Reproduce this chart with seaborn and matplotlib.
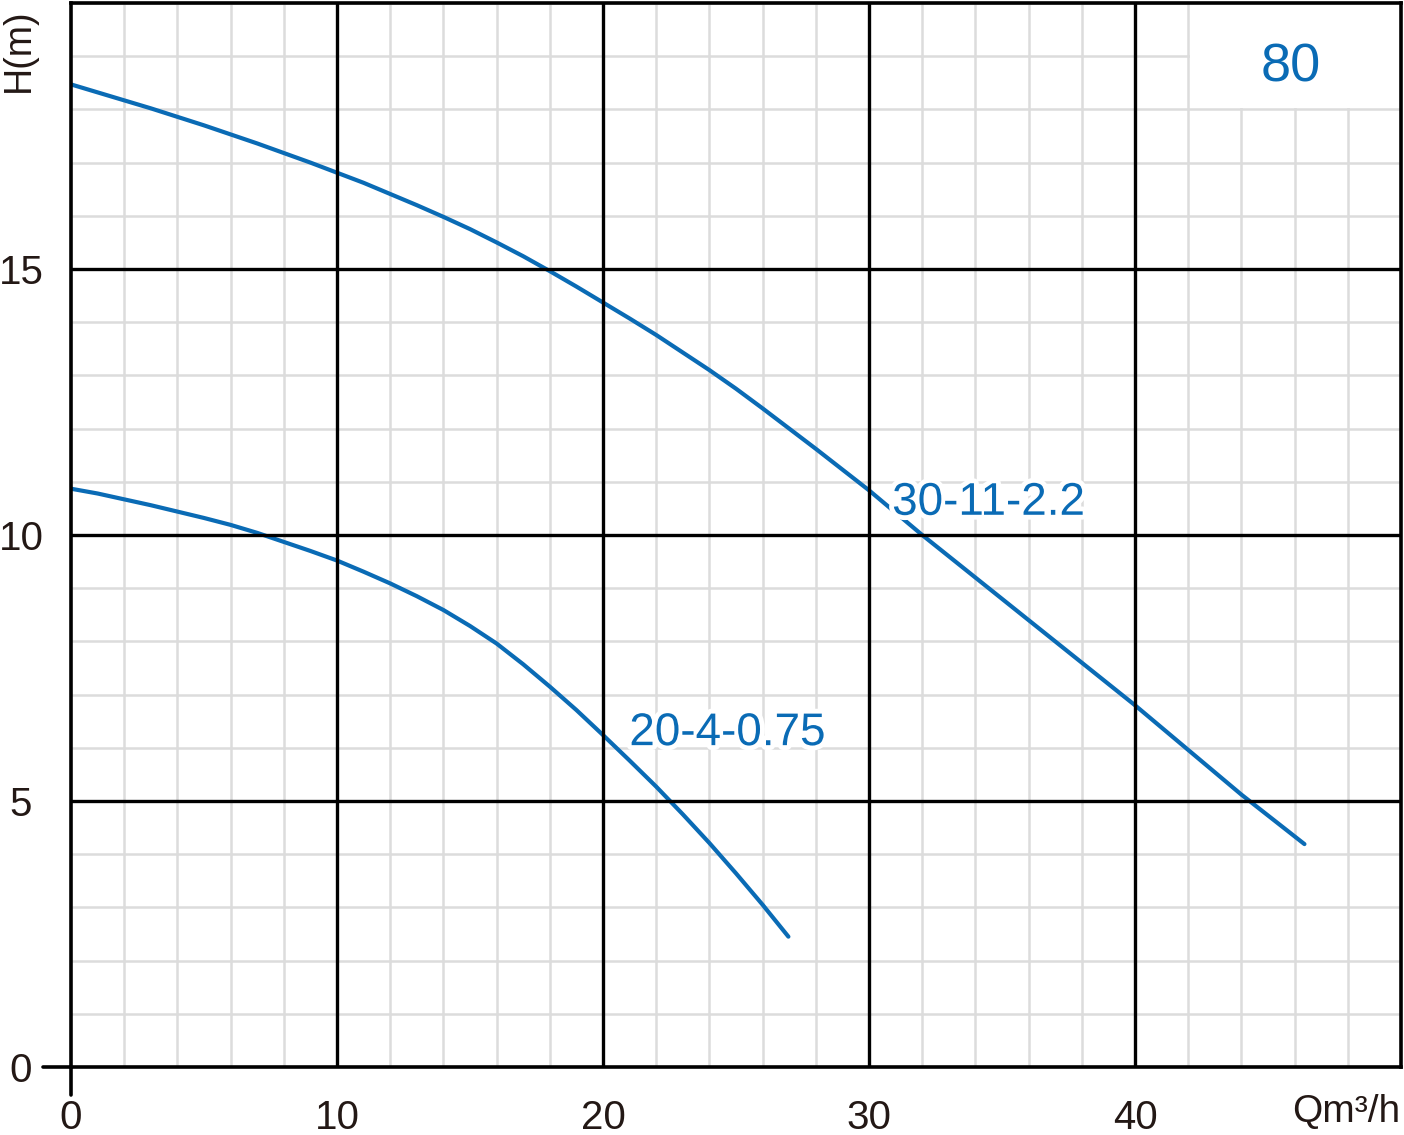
"""Pump curve chart: H(m) vs Q m3/h, model 80."""

import matplotlib
matplotlib.use("Agg")

import matplotlib.patheffects as pe
import matplotlib.pyplot as plt
import pandas as pd
import seaborn as sns
from matplotlib.patches import Rectangle
from matplotlib.ticker import MultipleLocator

# curve 30-11-2.2
flow_30_11 = [0, 1, 2, 3, 4, 5, 6, 7, 8, 9, 10, 11, 12, 13, 14, 15, 16, 17, 18, 19, 20, 21, 22, 23, 24,
              25, 26, 27, 28, 29, 30, 31, 32, 34, 36, 38, 40, 42, 44, 46.37]
head_30_11 = [18.47, 18.32, 18.17, 18.02, 17.86, 17.70, 17.53, 17.36, 17.18, 17.00, 16.81, 16.62,
              16.41, 16.20, 15.98, 15.75, 15.50, 15.24, 14.96, 14.67, 14.37, 14.07, 13.76, 13.43,
              13.10, 12.75, 12.38, 12.00, 11.62, 11.23, 10.84, 10.42, 10.0, 9.2, 8.4, 7.6, 6.8,
              5.96, 5.12, 4.19]

# curve 20-4-0.75
flow_20_4 = [0, 1, 2, 3, 4, 5, 6, 7, 8, 9, 10, 11, 12, 13, 14, 15, 16, 17, 18, 19, 20, 21, 22, 23,
             24, 25, 26, 26.97]
head_20_4 = [10.87, 10.78, 10.67, 10.56, 10.44, 10.32, 10.19, 10.04, 9.87, 9.70, 9.52, 9.31, 9.09,
             8.85, 8.59, 8.29, 7.96, 7.57, 7.15, 6.71, 6.24, 5.76, 5.27, 4.75, 4.21, 3.64, 3.05, 2.45]

model_names = ["30-11-2.2", "20-4-0.75"]
x_ticks = [0, 10, 20, 30, 40]
y_ticks = [0, 5, 10, 15]
series_label = "80"

BLUE = "#0a6bb5"
INK = "#231815"

curves = pd.concat([
    pd.DataFrame({"flow": flow_30_11, "head": head_30_11, "model": model_names[0]}),
    pd.DataFrame({"flow": flow_20_4, "head": head_20_4, "model": model_names[1]}),
])

sns.set_theme(style="white")
plt.rcParams["font.family"] = ["Liberation Sans", "DejaVu Sans"]

fig = plt.figure(figsize=(14.04, 11.35), dpi=100)
ax = fig.add_axes([71 / 1404, 68 / 1135, 1330 / 1404, 1064 / 1135])

ax.set_xlim(0, 50)
ax.set_ylim(0, 20)
ax.set_xticks(x_ticks)
ax.set_yticks(y_ticks)
ax.xaxis.set_minor_locator(MultipleLocator(2))
ax.yaxis.set_minor_locator(MultipleLocator(1))
ax.set_axisbelow(True)
ax.grid(which="minor", color="#dcdcdc", linewidth=1.8)
ax.grid(which="major", visible=False)

# blank box behind the series number
ax.add_patch(Rectangle((42.07, 18.035), 8, 2, facecolor="white", edgecolor="none", zorder=1))

sns.lineplot(data=curves, x="flow", y="head", hue="model", palette=[BLUE, BLUE], sort=False,
             estimator=None, linewidth=3, legend=False, ax=ax, zorder=2)

ax.vlines(x_ticks[1:], 0, 20, colors="black", linewidth=2.4, zorder=3)
ax.hlines(y_ticks[1:], 0, 50, colors="black", linewidth=2.4, zorder=3)

for spine in ax.spines.values():
    spine.set_color("black")
    spine.set_linewidth(2.6)
ax.plot([-1.05, 0], [0, 0], color="black", linewidth=2.6, clip_on=False, zorder=4)
ax.plot([0, 0], [-0.53, 0], color="black", linewidth=2.6, clip_on=False, zorder=4)

ax.tick_params(which="both", length=0, labelsize=29, labelcolor=INK)
ax.tick_params(axis="x", pad=23)
ax.tick_params(axis="y", pad=36)
for label in ax.get_yticklabels():
    label.set_horizontalalignment("center")
ax.set_xlabel("")
ax.set_ylabel("")

halo = [pe.withStroke(linewidth=7, foreground="white")]
ax.text(30.87, 10.38, model_names[0], fontsize=33, color=BLUE, ha="left", va="baseline",
        path_effects=halo, zorder=5)
ax.text(20.99, 6.05, model_names[1], fontsize=33, color=BLUE, ha="left", va="baseline",
        path_effects=halo, zorder=5)
ax.text(45.86, 18.52, series_label, fontsize=39, color=BLUE, ha="center", va="baseline", zorder=5)

ax.text(0.9992, -0.0517, "Qm³/h", transform=ax.transAxes, fontsize=28, color=INK,
        ha="right", va="baseline")
ax.text(-0.039, 0.956, "H(m)", transform=ax.transAxes, fontsize=27, color=INK,
        rotation=90, ha="center", va="center")

fig.savefig("out.png", dpi=100)
plt.close(fig)
